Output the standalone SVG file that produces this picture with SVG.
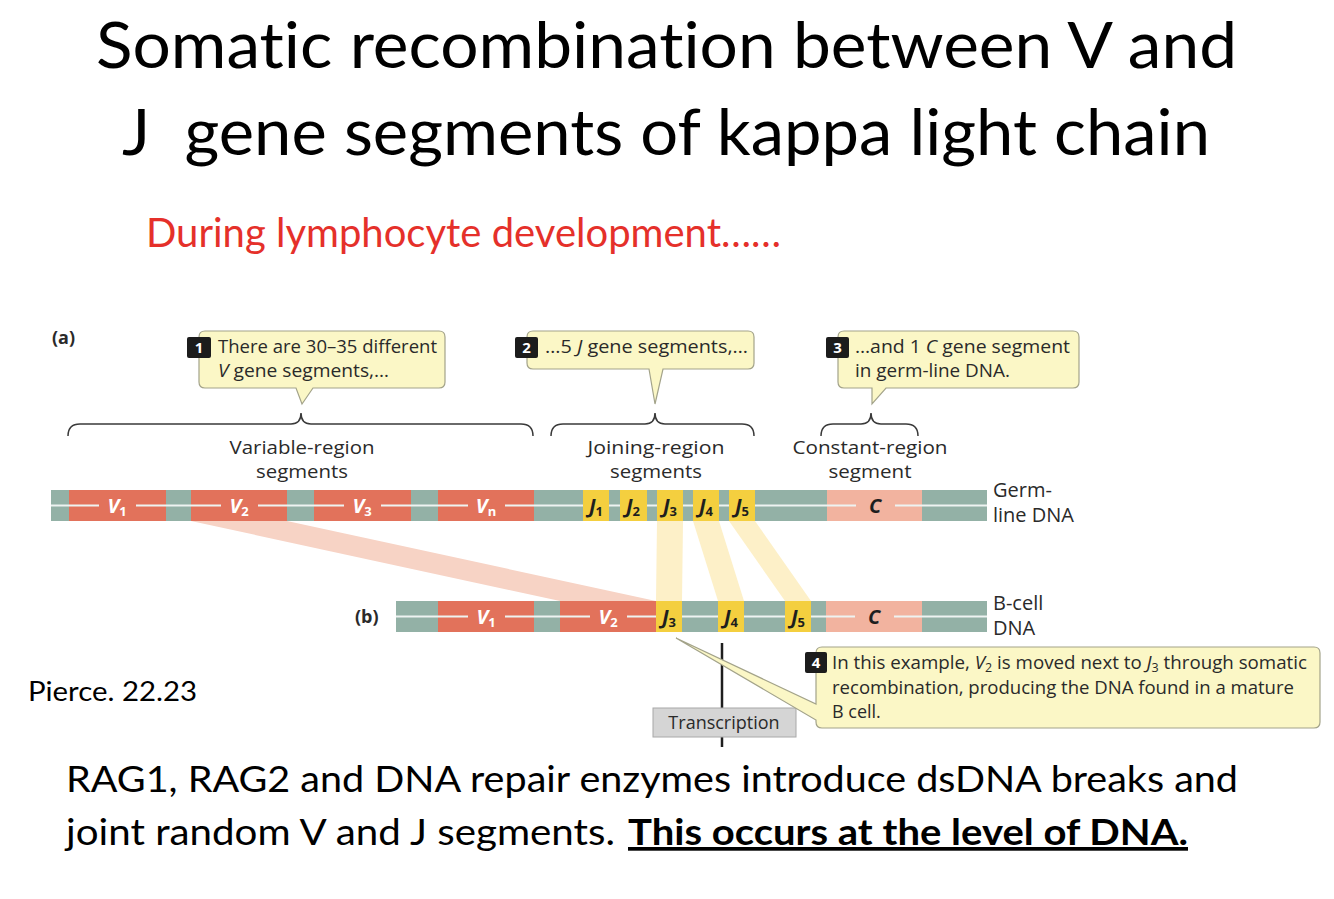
<svg xmlns="http://www.w3.org/2000/svg" width="1334" height="899" viewBox="0 0 1334 899">
<defs>
<style>
.slide{font-family:Lato,"Open Sans","Liberation Sans",sans-serif;fill:#000;font-variant-ligatures:none;font-feature-settings:"liga" 0,"clig" 0,"dlig" 0}
.fig{font-family:"Open Sans","Liberation Sans",sans-serif;fill:#2a2a2a;font-size:18px}
.sec{font-family:"Open Sans","Liberation Sans",sans-serif;fill:#2a2a2a;font-size:19px;text-anchor:middle}
.dna{font-family:"Open Sans","Liberation Sans",sans-serif;fill:#2a2a2a;font-size:20px}
.call{fill:#fbf7c6;stroke:#a3a38a;stroke-width:1.2}
.badge{fill:#1c1c1c}
.bnum{font-family:"Open Sans","Liberation Sans",sans-serif;font-weight:700;font-size:15px;fill:#fff;text-anchor:middle}
.brace{fill:none;stroke:#3a3a3a;stroke-width:1.5}
.teal{fill:#93b1a6}
.vseg{fill:#e2725b}
.jseg{fill:#f4cf3f}
.cseg{fill:#f2b39f}
.wl{fill:#eef3f1}
.vl{font-family:"Open Sans","Liberation Sans",sans-serif;font-weight:700;font-style:italic;font-size:20px;fill:#fff;text-anchor:middle}
.jl{font-family:"Open Sans","Liberation Sans",sans-serif;font-weight:700;font-style:italic;font-size:20px;fill:#1e1e1e;text-anchor:middle}
.sub{font-size:13px;font-style:normal}
.vband{fill:#f7d3c5}
.jband{fill:#fdf0c8}
</style>
</defs>

<g id="title">
<text class="slide" x="96" y="68" font-size="63" textLength="1141" lengthAdjust="spacingAndGlyphs">Somatic recombination between V and</text>
<text class="slide" x="122" y="155" font-size="63" textLength="1088" lengthAdjust="spacingAndGlyphs" style="white-space:pre">J  gene segments of kappa light chain</text>
<text class="slide" x="146" y="247" font-size="40" style="fill:#e5302a" textLength="635" lengthAdjust="spacingAndGlyphs">During lymphocyte development……</text>
<text class="slide" x="28" y="701" font-size="26" textLength="169" lengthAdjust="spacingAndGlyphs">Pierce. 22.23</text>
<text class="slide" x="66" y="792" font-size="37" textLength="1172" lengthAdjust="spacingAndGlyphs">RAG1, RAG2 and DNA repair enzymes introduce dsDNA breaks and</text>
<text class="slide" x="66" y="845" font-size="37" textLength="549" lengthAdjust="spacingAndGlyphs">joint random V and J segments.</text>
<text class="slide" x="628" y="845" font-size="37" font-weight="700" text-decoration="underline" textLength="560" lengthAdjust="spacingAndGlyphs">This occurs at the level of DNA.</text>
</g>

<g id="panel-labels">
<text class="fig" x="52" y="344" font-weight="700">(a)</text>
<text class="fig" x="355" y="623" font-weight="700">(b)</text>
</g>

<g id="connectors">
<polygon class="vband" points="191,521 287,521 656,601 560,601"/>
<polygon class="jband" points="657,521 683,521 682,601 656,601"/>
<polygon class="jband" points="693,521 719,521 744,601 718,601"/>
<polygon class="jband" points="729,521 755,521 811,601 785,601"/>
<path class="brace" d="M68,436 Q68,424 80,424 H291 Q301,424 301,413 Q301,424 311,424 H521 Q533,424 533,436"/>
<path class="brace" d="M551,436 Q551,424 563,424 H645 Q655,424 655,413 Q655,424 665,424 H742 Q754,424 754,436"/>
<path class="brace" d="M821,436 Q821,424 833,424 H861 Q871,424 871,413 Q871,424 881,424 H906 Q918,424 918,436"/>
<line x1="722" y1="643" x2="722" y2="747" stroke="#1e1e1e" stroke-width="2.5"/>
</g>

<g id="callout1">
<path class="call" d="M205,331 H439 Q445,331 445,337 V382 Q445,388 439,388 H313 L302,404 L296,388 H205 Q199,388 199,382 V337 Q199,331 205,331 Z"/>
<rect class="badge" x="187" y="337" width="24" height="21" rx="2"/>
<text class="bnum" x="199" y="353">1</text>
<text class="fig" x="218" y="353" textLength="219" lengthAdjust="spacingAndGlyphs">There are 30–35 different</text>
<text class="fig" x="218" y="377" textLength="171" lengthAdjust="spacingAndGlyphs"><tspan font-style="italic">V</tspan> gene segments,…</text>
</g>

<g id="callout2">
<path class="call" d="M533,331 H748 Q754,331 754,337 V363 Q754,369 748,369 H663 L655,404 L649,369 H533 Q527,369 527,363 V337 Q527,331 533,331 Z"/>
<rect class="badge" x="515" y="337" width="23" height="21" rx="2"/>
<text class="bnum" x="526.5" y="353">2</text>
<text class="fig" x="545" y="353" textLength="203" lengthAdjust="spacingAndGlyphs">…5 <tspan font-style="italic">J</tspan> gene segments,…</text>
</g>

<g id="callout3">
<path class="call" d="M844,331 H1073 Q1079,331 1079,337 V382 Q1079,388 1073,388 H886 L872,404 L872,388 H844 Q838,388 838,382 V337 Q838,331 844,331 Z"/>
<rect class="badge" x="826" y="337" width="23" height="21" rx="2"/>
<text class="bnum" x="837.5" y="353">3</text>
<text class="fig" x="855" y="353" textLength="215" lengthAdjust="spacingAndGlyphs">…and 1 <tspan font-style="italic">C</tspan> gene segment</text>
<text class="fig" x="855" y="377" textLength="155" lengthAdjust="spacingAndGlyphs">in germ-line DNA.</text>
</g>

<g id="section-labels">
<text class="sec" x="302" y="454" textLength="145" lengthAdjust="spacingAndGlyphs">Variable-region</text>
<text class="sec" x="302" y="478" textLength="92" lengthAdjust="spacingAndGlyphs">segments</text>
<text class="sec" x="656" y="454" textLength="137" lengthAdjust="spacingAndGlyphs">Joining-region</text>
<text class="sec" x="656" y="478" textLength="92" lengthAdjust="spacingAndGlyphs">segments</text>
<text class="sec" x="870" y="454" textLength="155" lengthAdjust="spacingAndGlyphs">Constant-region</text>
<text class="sec" x="870" y="478" textLength="83" lengthAdjust="spacingAndGlyphs">segment</text>
</g>

<g id="germline-dna">
<rect class="teal" x="51" y="490" width="936" height="31"/>
<rect class="vseg" x="69" y="490" width="97" height="31"/>
<rect class="vseg" x="191" y="490" width="96" height="31"/>
<rect class="vseg" x="314" y="490" width="97" height="31"/>
<rect class="vseg" x="438" y="490" width="96" height="31"/>
<rect class="cseg" x="827" y="490" width="95" height="31"/>
<rect class="wl" x="51" y="504.5" width="936" height="2"/>
<rect class="jseg" x="583" y="490" width="26" height="31"/>
<rect class="jseg" x="620" y="490" width="27" height="31"/>
<rect class="jseg" x="657" y="490" width="26" height="31"/>
<rect class="jseg" x="693" y="490" width="26" height="31"/>
<rect class="jseg" x="729" y="490" width="26" height="31"/>
<rect class="vseg" x="99" y="495" width="37" height="22"/>
<rect class="vseg" x="221" y="495" width="37" height="22"/>
<rect class="vseg" x="344" y="495" width="37" height="22"/>
<rect class="vseg" x="468" y="495" width="37" height="22"/>
<rect class="cseg" x="856" y="495" width="39" height="22"/>
<text class="vl" x="117" y="513">V<tspan class="sub" dy="3">1</tspan></text>
<text class="vl" x="239" y="513">V<tspan class="sub" dy="3">2</tspan></text>
<text class="vl" x="362" y="513">V<tspan class="sub" dy="3">3</tspan></text>
<text class="vl" x="486" y="513">V<tspan class="sub" dy="3" font-style="italic">n</tspan></text>
<text class="jl" x="596" y="513">J<tspan class="sub" dy="3">1</tspan></text>
<text class="jl" x="633" y="513">J<tspan class="sub" dy="3">2</tspan></text>
<text class="jl" x="670" y="513">J<tspan class="sub" dy="3">3</tspan></text>
<text class="jl" x="706" y="513">J<tspan class="sub" dy="3">4</tspan></text>
<text class="jl" x="742" y="513">J<tspan class="sub" dy="3">5</tspan></text>
<text class="jl" x="875" y="513">C</text>
<text class="dna" x="993" y="497">Germ-</text>
<text class="dna" x="993" y="522">line DNA</text>
</g>

<g id="bcell-dna">
<rect class="teal" x="396" y="601" width="591" height="31"/>
<rect class="vseg" x="438" y="601" width="96" height="31"/>
<rect class="vseg" x="560" y="601" width="96" height="31"/>
<rect class="cseg" x="826" y="601" width="96" height="31"/>
<rect class="wl" x="396" y="615.5" width="591" height="2"/>
<rect class="jseg" x="656" y="601" width="26" height="31"/>
<rect class="jseg" x="718" y="601" width="26" height="31"/>
<rect class="jseg" x="785" y="601" width="26" height="31"/>
<rect class="vseg" x="468" y="606" width="37" height="22"/>
<rect class="vseg" x="590" y="606" width="37" height="22"/>
<rect class="cseg" x="855" y="606" width="39" height="22"/>
<text class="vl" x="486" y="624">V<tspan class="sub" dy="3">1</tspan></text>
<text class="vl" x="608" y="624">V<tspan class="sub" dy="3">2</tspan></text>
<text class="jl" x="669" y="624">J<tspan class="sub" dy="3">3</tspan></text>
<text class="jl" x="731" y="624">J<tspan class="sub" dy="3">4</tspan></text>
<text class="jl" x="798" y="624">J<tspan class="sub" dy="3">5</tspan></text>
<text class="jl" x="874" y="624">C</text>
<text class="dna" x="993" y="610">B-cell</text>
<text class="dna" x="993" y="635">DNA</text>
</g>

<g id="transcription">
<rect x="653" y="708" width="143" height="29" fill="#d5d5d5" stroke="#a8a8a8" stroke-width="1"/>
<text class="fig" x="724" y="729" text-anchor="middle" font-size="20">Transcription</text>
</g>

<g id="callout4">
<path class="call" d="M822,647 H1314 Q1320,647 1320,653 V722 Q1320,728 1314,728 H822 Q816,728 816,722 V720 L676,638 L816,704 V653 Q816,647 822,647 Z"/>
<rect class="badge" x="805" y="652" width="22" height="21" rx="2"/>
<text class="bnum" x="816" y="668">4</text>
<text class="fig" x="832" y="669" textLength="475" lengthAdjust="spacingAndGlyphs">In this example, <tspan font-style="italic">V</tspan><tspan font-size="12" baseline-shift="-3">2</tspan> is moved next to <tspan font-style="italic">J</tspan><tspan font-size="12" baseline-shift="-3">3</tspan> through somatic</text>
<text class="fig" x="832" y="694" textLength="462" lengthAdjust="spacingAndGlyphs">recombination, producing the DNA found in a mature</text>
<text class="fig" x="832" y="718">B cell.</text>
</g>
</svg>
